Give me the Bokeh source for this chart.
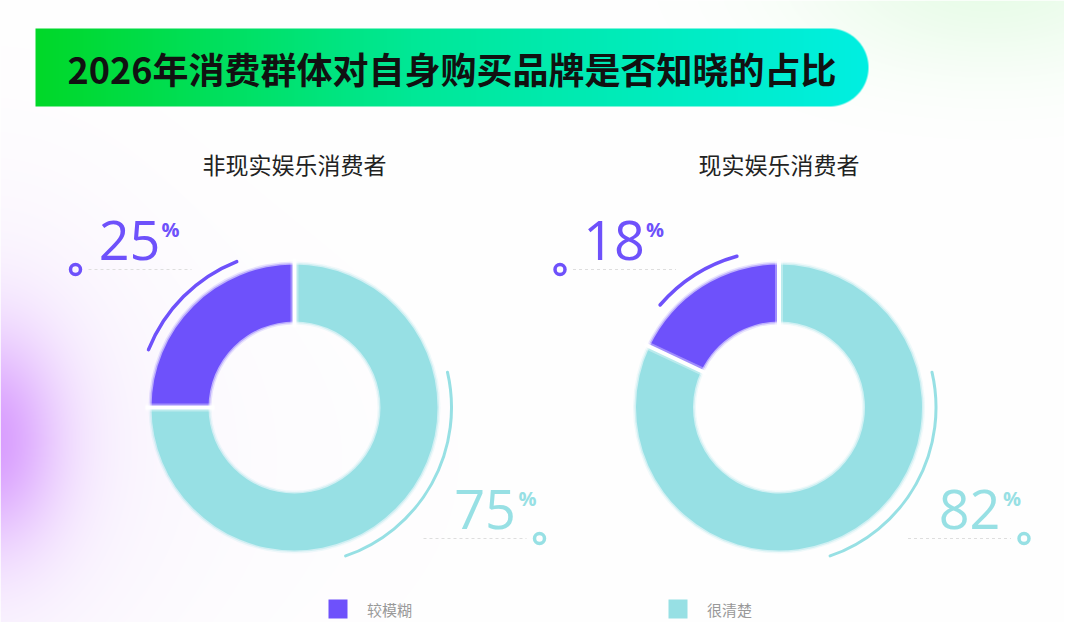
import numpy as np
from bokeh.plotting import figure
from bokeh.models import Range1d
from bokeh.core.properties import value
from bokeh.embed import file_html
from bokeh.resources import INLINE

# ---------------- data ----------------
title_text = "2026年消费群体对自身购买品牌是否知晓的占比"
groups = ["非现实娱乐消费者", "现实娱乐消费者"]
categories = ["较模糊", "很清楚"]
vague_pct = [25, 18]
clear_pct = [75, 82]

PURPLE = "#6e51fb"
TEAL = "#97e0e4"
cat_colors = [PURPLE, TEAL]

# ---------------- layout helpers ----------------
W, H = 1064, 622
NUM_FONT = "Open Sans"


def Y(sy):
    # reference-picture y -> data y
    return 638 - sy


centers_x = [294, 778.5]
CY = 407
R_IN, R_OUT = 86, 143
R_ARC = 157

p = figure(width=W, height=H, x_range=Range1d(0, W), y_range=Range1d(638 - H, 638),
           output_backend="svg", toolbar_location=None,
           x_axis_location=None, y_axis_location=None, min_border=0)
p.grid.visible = False
p.outline_line_color = None
p.background_fill_color = "white"
p.border_fill_color = "white"

# ---------------- background + banner (decoration) ----------------
xs = np.arange(0, W) + 0.5
ys = np.arange(0, H) + 0.5
X, S = np.meshgrid(xs, ys)
rgb = np.full(X.shape + (3,), 255.0)


def blend(col, a):
    global rgb
    a = a[..., None]
    rgb = rgb * (1 - a) + np.array(col, dtype=float) * a


# faint lavender wash
blend((240, 230, 253), 0.2 * np.exp(-((X + 50) / 400) ** 2 - ((S - 460) / 240) ** 2))
# purple glow left
d2 = ((X + 10) / 70) ** 2 + ((S - 440) / 105) ** 2
blend((214, 150, 255), 0.8 * np.exp(-d2) + 0.12 * np.exp(-d2 / 5))
# green glow top right
blend((205, 248, 205), 0.45 * np.exp(-((X - 990) / 190) ** 2 - ((S + 20) / 90) ** 2))

# banner
bx0, bx1, by0, by1 = 35, 868, 28, 106
rad = (by1 - by0) / 2
ccx = bx1 - rad
ccy = (by0 + by1) / 2
dist_rect = np.maximum.reduce([bx0 - X, S - by1, by0 - S])
dist_circ = np.sqrt((X - ccx) ** 2 + (S - ccy) ** 2) - rad
dist = np.where(X <= ccx, dist_rect, dist_circ)
mask = np.clip(0.5 - dist, 0, 1)
t = np.clip((X - bx0) / (bx1 - bx0), 0, 1)
stops_t = [0.0, 0.45, 1.0]
stops_c = [(0, 216, 40), (0, 232, 150), (0, 239, 226)]
bc = np.stack([np.interp(t, stops_t, [c[k] for c in stops_c]) for k in range(3)], axis=-1)
rgb = rgb * (1 - mask[..., None]) + bc * mask[..., None]

rgba = np.zeros(X.shape + (4,), dtype=np.uint8)
rgba[..., :3] = np.clip(rgb, 0, 255).astype(np.uint8)
rgba[..., 3] = 255
img = rgba.view(dtype=np.uint32).reshape(X.shape)[::-1]
p.image_rgba(image=[img], x=0, y=638 - H, dw=W, dh=H)

# title
p.text(x=[67], y=[Y(67)], text=[title_text], text_align="left", text_baseline="middle",
       text_font=value("Noto Sans CJK SC"), text_font_style="bold", text_font_size="36px",
       text_color="#111111")

# ---------------- donuts ----------------
for gi, gname in enumerate(groups):
    cx = centers_x[gi]
    cy = Y(CY)
    vals = [vague_pct[gi], clear_pct[gi]]
    cum = np.cumsum([0] + vals) / sum(vals)
    ang = np.deg2rad(90 + 360 * cum)

    # soft-edged wedges
    for dr, al in [(3.0, 0.15), (1.5, 0.35), (0.0, 1.0)]:
        p.annular_wedge(x=[cx] * 2, y=[cy] * 2, inner_radius=R_IN - dr, outer_radius=R_OUT + dr,
                        start_angle=list(ang[:-1]), end_angle=list(ang[1:]),
                        fill_color=cat_colors, line_color=None, fill_alpha=al)
    # white separators at slice boundaries
    bnd = ang[:-1]
    for lw, al in [(8, 0.35), (4, 1.0)]:
        p.segment(x0=list(cx + (R_IN - 6) * np.cos(bnd)), y0=list(cy + (R_IN - 6) * np.sin(bnd)),
                  x1=list(cx + (R_OUT + 6) * np.cos(bnd)), y1=list(cy + (R_OUT + 6) * np.sin(bnd)),
                  line_color="white", line_width=lw, line_alpha=al)

    # outer accent arcs
    mid = (ang[0] + ang[1]) / 2
    half = 0.26 * (ang[1] - ang[0])
    p.arc(x=cx, y=cy, radius=R_ARC, start_angle=mid - half, end_angle=mid + half,
          line_color=PURPLE, line_width=3.5, line_cap="round")
    p.arc(x=cx, y=cy, radius=R_ARC, start_angle=np.deg2rad(-71), end_angle=np.deg2rad(13),
          line_color=TEAL, line_width=3, line_cap="round")

    # subtitle
    p.text(x=[cx], y=[Y(163)], text=[gname], text_align="center", text_baseline="middle",
           text_font=value("Noto Sans CJK SC"), text_font_size="23px", text_color="#222222")

    # percentage labels
    p.text(x=[cx - 134], y=[Y(240)], text=[str(vague_pct[gi])], text_align="right",
           text_baseline="middle", text_font=value(NUM_FONT), text_font_size="54px",
           text_color=PURPLE)
    p.text(x=[cx - 133], y=[Y(228.5)], text=["%"], text_align="left", text_baseline="middle",
           text_font=value(NUM_FONT), text_font_size="20px", text_font_style="bold",
           text_color=PURPLE)
    p.text(x=[cx + 221.5], y=[Y(509)], text=[str(clear_pct[gi])], text_align="right",
           text_baseline="middle", text_font=value(NUM_FONT), text_font_size="54px",
           text_color=TEAL)
    p.text(x=[cx + 224], y=[Y(498)], text=["%"], text_align="left", text_baseline="middle",
           text_font=value(NUM_FONT), text_font_size="20px", text_font_style="bold",
           text_color=TEAL)

    # leader dashes and rings
    p.segment(x0=[cx - 206, cx + 129], y0=[Y(269), Y(538)], x1=[cx - 103, cx + 232],
              y1=[Y(269), Y(538)], line_color="#dedede", line_width=1, line_dash="3 3")
    p.scatter(x=[cx - 219, cx + 245], y=[Y(269), Y(538)], marker="circle", size=10,
              fill_color="white", fill_alpha=0, line_color=cat_colors, line_width=3.5)

# ---------------- legend ----------------
leg_x = [337.5, 677.5]
p.rect(x=leg_x, y=[Y(608.5)] * 2, width=19, height=19, fill_color=cat_colors, line_color=None)
p.text(x=[lx + 29 for lx in leg_x], y=[Y(609)] * 2, text=categories, text_align="left",
       text_baseline="middle", text_font=value("Noto Sans CJK SC"), text_font_size="15px",
       text_color="#999999")

open("out.html", "w").write(file_html(p, INLINE))
